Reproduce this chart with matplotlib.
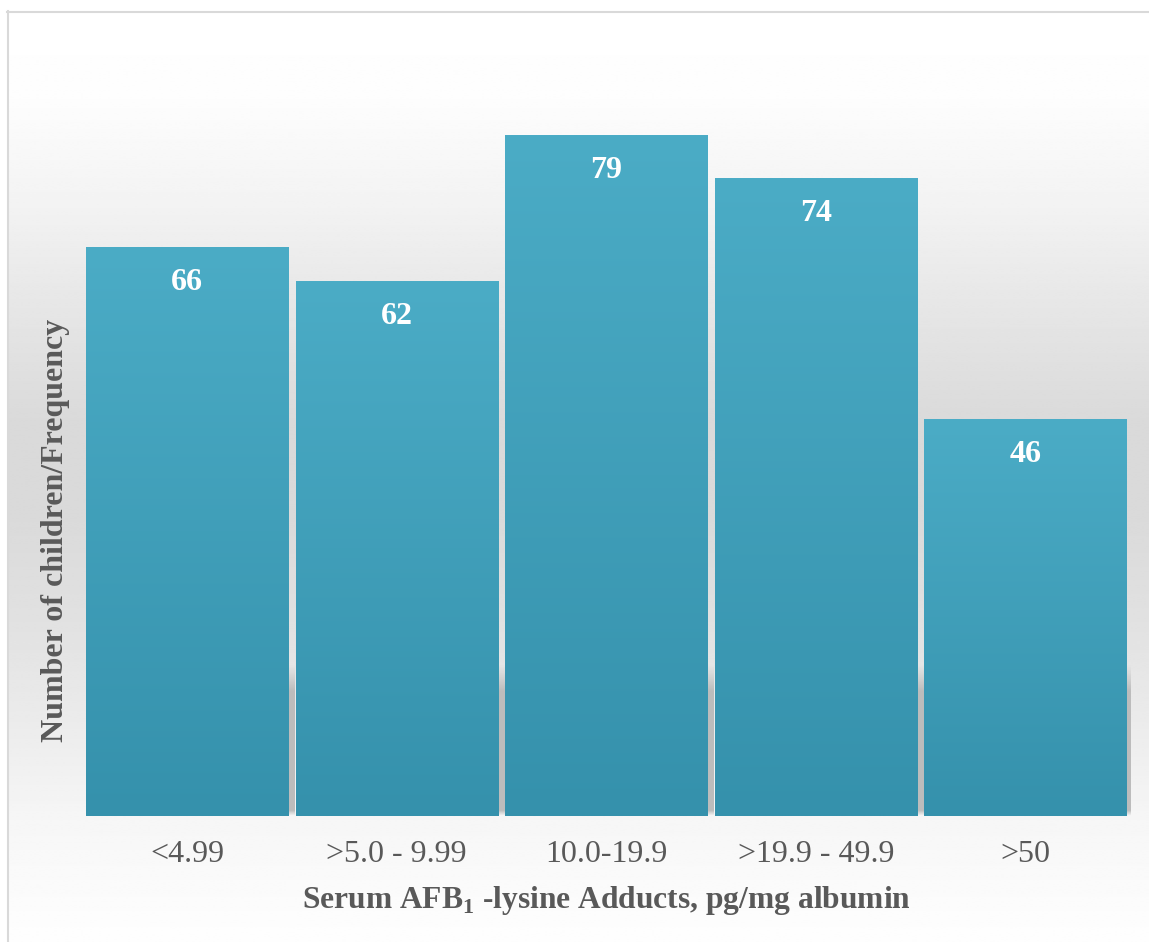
import numpy as np
import matplotlib
matplotlib.use("Agg")
import matplotlib.pyplot as plt

plt.rcParams['font.family'] = ['Liberation Serif', 'DejaVu Serif']
plt.rcParams['mathtext.fontset'] = 'custom'
plt.rcParams['mathtext.rm'] = 'Liberation Serif'
plt.rcParams['mathtext.bf'] = 'Liberation Serif:bold'

categories = ['<4.99', '>5.0 - 9.99', '10.0-19.9', '>19.9 - 49.9', '>50']
counts = [66, 62, 79, 74, 46]

W, H = 1149, 942
fig = plt.figure(figsize=(W / 100, H / 100), dpi=100)

# grey backdrop, light at top and bottom, darker in the middle
bg = fig.add_axes([0, 0, 1, 1], zorder=-10)
bg.set_axis_off()
stops_y = [12, 100, 200, 300, 420, 520, 620, 720, 820, 942]
stops_v = [255, 253, 243, 231, 218, 218, 225, 235, 246, 254]
rows = np.linspace(12, H, 400)
shade = np.interp(rows, stops_y, stops_v) / 255
bg.imshow(np.repeat(shade[:, None], 2, axis=1), cmap='gray', vmin=0, vmax=1,
          extent=[8, W, H, 12], aspect='auto', interpolation='bilinear')
bg.plot([7.5, 7.5], [11, H], color='#d9d9d9', lw=1.5)
bg.plot([7, W], [11.5, 11.5], color='#d9d9d9', lw=1.5)
bg.set_xlim(0, W)
bg.set_ylim(H, 0)

ax = fig.add_axes([82.25 / W, (H - 816) / H, 1048 / W, 776 / H])
ax.patch.set_alpha(0)
x = np.arange(len(categories))
bw = 0.964

bars = ax.bar(x, counts, width=bw, color='none', edgecolor='none', zorder=3)

top_c = np.array([75, 172, 198]) / 255
bot_c = np.array([53, 145, 172]) / 255
t = np.linspace(0, 1, 200)[:, None]
bar_grad = (top_c * (1 - t) + bot_c * t)[:, None, :]

# soft grey shadow sitting behind the lower part of each bar
sy = np.linspace(0, 19, 200)
s_alpha = np.clip((17.5 - sy) / 3.0, 0, 1) * np.clip(sy / 0.6, 0, 1)
shadow = np.zeros((200, 2, 4))
shadow[..., :3] = 0.74
shadow[..., 3] = s_alpha[::-1][:, None]

for xi, v, b in zip(x, counts, bars):
    x0 = xi - bw / 2
    ax.imshow(shadow, extent=[x0 + 0.01, x0 + bw + 0.03, 0, 19], aspect='auto',
              zorder=2, interpolation='bilinear')
    im = ax.imshow(bar_grad, extent=[x0, x0 + bw, 0, v], aspect='auto',
                   zorder=3, interpolation='bilinear')
    im.set_clip_path(b)
    ax.annotate(str(v), (xi, v), xytext=(0, -25.5), textcoords='offset points',
                ha='center', va='center', color='white', fontsize=23,
                fontweight='bold', zorder=5)

ax.set_xlim(-0.5, 4.5)
ax.set_ylim(0, 90)
ax.set_xticks(x, categories)
ax.set_yticks([])
ax.tick_params(axis='x', length=0, pad=17, labelsize=23, labelcolor='#595959')
for s in ax.spines.values():
    s.set_visible(False)

fig.text(606.5 / W, 1 - 908 / H,
         r'Serum AFB$_\mathbf{1}$ -lysine Adducts, pg/mg albumin',
         ha='center', va='baseline', fontsize=22.7, fontweight='bold', color='#595959')
fig.text(56 / W, 1 - 530 / H, 'Number of children/Frequency', rotation=90,
         ha='center', va='center', fontsize=23, fontweight='bold', color='#595959')

fig.savefig('out.png', dpi=100)
